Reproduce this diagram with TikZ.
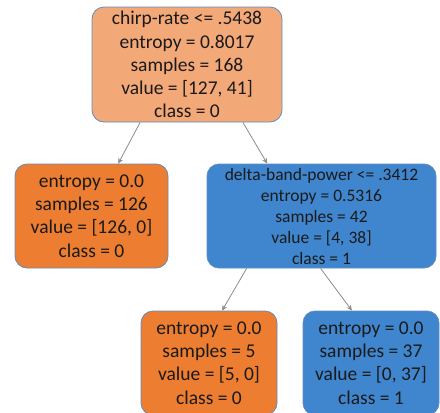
\documentclass[tikz,border=0pt]{standalone}
\usepackage{fontspec}
\setmainfont{Carlito}
\usetikzlibrary{arrows.meta}
\definecolor{peach}{HTML}{F3A878}
\definecolor{orng}{HTML}{ED7D31}
\definecolor{blu}{HTML}{3F86CE}
\definecolor{bord}{HTML}{5F8CC0}
\definecolor{txt}{HTML}{1A1A1A}
\definecolor{arrc}{HTML}{8C8C8C}
\tikzset{
  treebox/.style={draw=bord, line width=0.8pt, rounded corners=12pt, align=center, inner sep=0pt,
    text=txt, font={\fontsize{19.5}{23.2}\selectfont}},
  smallfont/.style={font={\fontsize{17.5}{21}\selectfont}},
  arr/.style={draw=arrc, line width=0.8pt, -{Stealth[length=5.5pt,width=5pt]}}
}
\begin{document}
\begin{tikzpicture}[x=1pt,y=1pt]
\useasboundingbox (0,0) rectangle (440,-413);
\clip (0,0) rectangle (440,-413);
\node[treebox, fill=peach, minimum width=190pt, minimum height=115pt] (root) at (187,-64.5)
  {chirp-rate <= .5438\\entropy = 0.8017\\samples = 168\\value = [127, 41]\\class = 0};
\node[treebox, fill=orng, minimum width=153pt, minimum height=104pt] (left) at (91.5,-216)
  {entropy = 0.0\\samples = 126\\value = [126, 0]\\class = 0};
\node[treebox, smallfont, fill=blu, minimum width=229pt, minimum height=104pt] (right) at (321.5,-216)
  {delta-band-power <= .3412\\entropy = 0.5316\\samples = 42\\value = [4, 38]\\class = 1};
\node[treebox, fill=orng, minimum width=136pt, minimum height=104pt] (bl) at (209,-363)
  {entropy = 0.0\\samples = 5\\value = [5, 0]\\class = 0};
\node[treebox, fill=blu, minimum width=136pt, minimum height=104pt] (br) at (371,-363)
  {entropy = 0.0\\samples = 37\\value = [0, 37]\\class = 1};
\draw[arr] (root.-129.3) -- (left.63.9);
\draw[arr] (root.-46.3) -- (right.136.3);
\draw[arr] (right.-145.8) -- (bl.76);
\draw[arr] (right.-91.7) -- (br.110.1);
\end{tikzpicture}
\end{document}
